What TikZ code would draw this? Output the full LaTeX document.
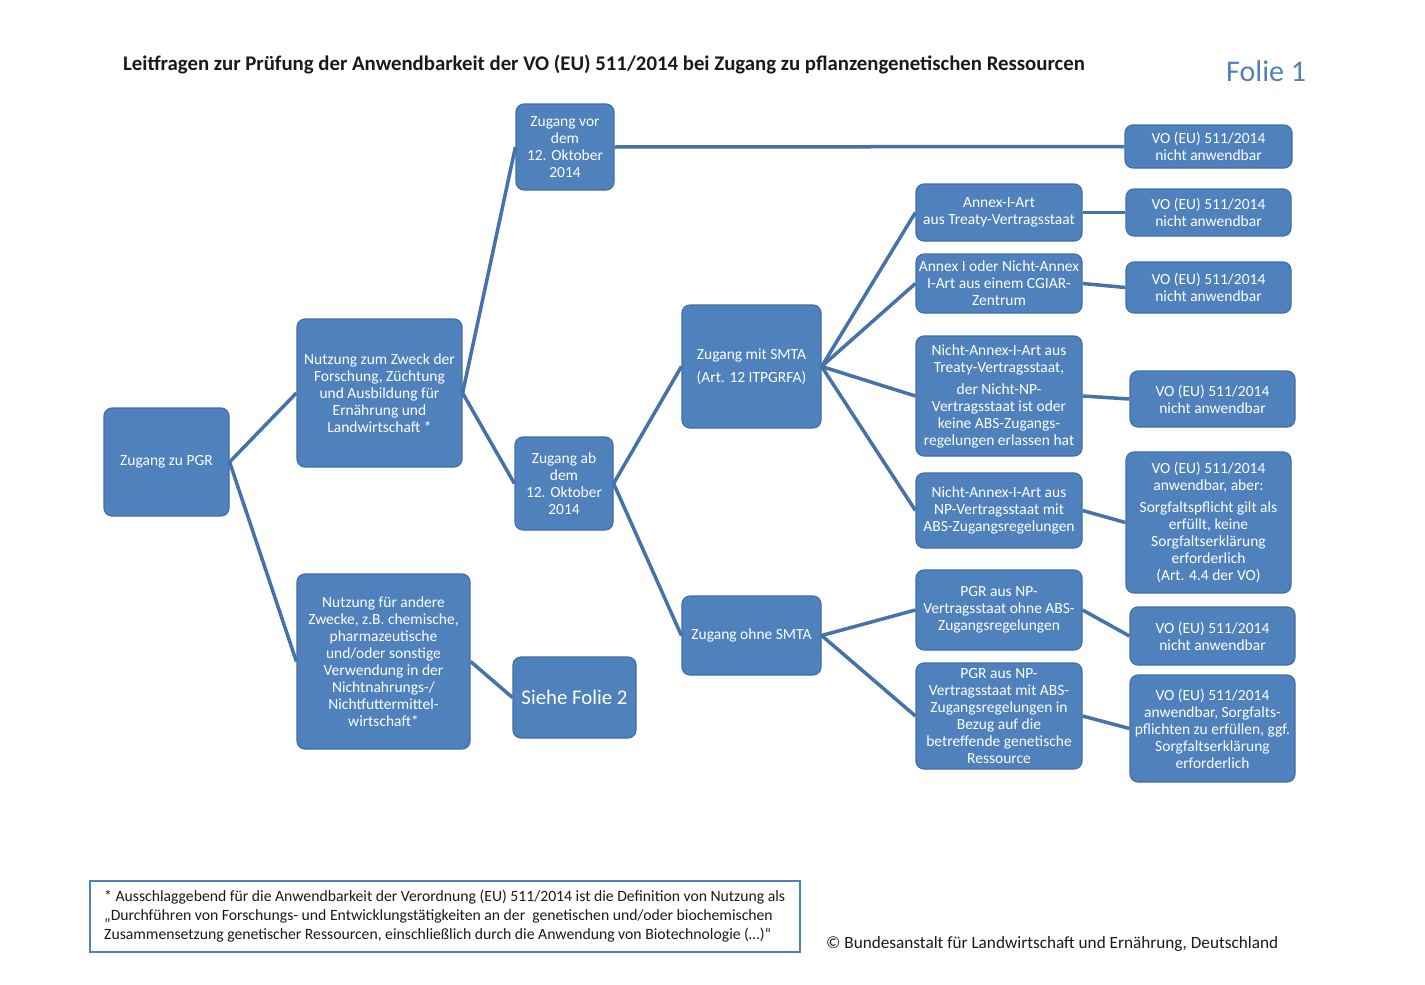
\documentclass[tikz,border=0pt]{standalone}
\usepackage{fontspec}
\setmainfont{Carlito}
\definecolor{boxfill}{HTML}{4F81BD}
\definecolor{boxborder}{HTML}{416FA8}
\definecolor{linecol}{HTML}{4672AA}
\definecolor{txt}{HTML}{1A1A1A}
\begin{document}
\begin{tikzpicture}[x=1pt,y=-1pt,
  box/.style={draw=boxborder, fill=boxfill, rounded corners=8pt, text=white, align=center,
    inner sep=0pt, line width=1.2pt, font=\fontsize{15.5}{17}\selectfont},
  conn/.style={draw=linecol, line width=3.5pt}]
\useasboundingbox (0,0) rectangle (1425,985);
\fill[white] (0,0) rectangle (1425,985);
% title
\node[anchor=west, inner sep=0pt, text=txt, font=\fontsize{20.8}{24}\selectfont\bfseries] (title) at (123,65)
  {Leitfragen zur Prüfung der Anwendbarkeit der VO (EU) 511/2014 bei Zugang zu pflanzengenetischen Ressourcen};
\node[anchor=west, inner sep=0pt, text=boxfill, font=\fontsize{30}{34}\selectfont] (folie) at (1226,71) {Folie 1};
% boxes
\node[box, minimum width=125pt, minimum height=108pt] (pgr) at (166.5,462) {Zugang zu PGR};
\node[box, minimum width=165pt, minimum height=148pt] (nz) at (379.5,393) {Nutzung zum Zweck der\\Forschung, Züchtung\\und Ausbildung für\\Ernährung und\\Landwirtschaft *};
\node[box, minimum width=173pt, minimum height=175pt] (na) at (383.5,661.5) {Nutzung für andere\\Zwecke, z.B. chemische,\\pharmazeutische\\und/oder sonstige\\Verwendung in der\\Nichtnahrungs-/\\Nichtfuttermittel-\\wirtschaft*};
\node[box, minimum width=98pt, minimum height=86pt] (zv) at (565,147) {Zugang vor\\dem\\12. Oktober\\2014};
\node[box, minimum width=98pt, minimum height=93pt] (za) at (564,483.5) {Zugang ab\\dem\\12. Oktober\\2014};
\node[box, minimum width=123pt, minimum height=81pt, font=\fontsize{20.8}{24}\selectfont] (sf) at (574.5,697.5) {Siehe Folie 2};
\node[box, minimum width=139pt, minimum height=123pt] (ms) at (751.5,366.5) {Zugang mit SMTA\\[6pt](Art. 12 ITPGRFA)};
\node[box, minimum width=139pt, minimum height=79pt] (os) at (751.5,635.5) {Zugang ohne SMTA};
\node[box, minimum width=166pt, minimum height=57pt] (a1) at (999,212.5) {Annex-I-Art\\aus Treaty-Vertragsstaat};
\node[box, minimum width=166pt, minimum height=59pt] (a2) at (999,283.5) {Annex I oder Nicht-Annex\\I-Art aus einem CGIAR-\\Zentrum};
\node[box, minimum width=166pt, minimum height=120pt] (a3) at (999,396) {Nicht-Annex-I-Art aus\\Treaty-Vertragsstaat,\\[5pt]der Nicht-NP-\\Vertragsstaat ist oder\\keine ABS-Zugangs-\\regelungen erlassen hat};
\node[box, minimum width=166pt, minimum height=75pt] (a4) at (999,510.5) {Nicht-Annex-I-Art aus\\NP-Vertragsstaat mit\\ABS-Zugangsregelungen};
\node[box, minimum width=166pt, minimum height=80pt] (p1) at (999,610) {PGR aus NP-\\Vertragsstaat ohne ABS-\\Zugangsregelungen};
\node[box, minimum width=166pt, minimum height=106pt] (p2) at (999,716) {PGR aus NP-\\Vertragsstaat mit ABS-\\Zugangsregelungen in\\Bezug auf die\\betreffende genetische\\Ressource};
\node[box, minimum width=167pt, minimum height=43pt] (r0) at (1208.5,146.5) {VO (EU) 511/2014\\nicht anwendbar};
\node[box, minimum width=165pt, minimum height=47pt] (r1) at (1208.5,212.5) {VO (EU) 511/2014\\nicht anwendbar};
\node[box, minimum width=165pt, minimum height=51pt] (r2) at (1208.5,287.5) {VO (EU) 511/2014\\nicht anwendbar};
\node[box, minimum width=165pt, minimum height=56pt] (r3) at (1212.5,399) {VO (EU) 511/2014\\nicht anwendbar};
\node[box, minimum width=165pt, minimum height=141pt] (r4) at (1208.5,522.5) {VO (EU) 511/2014\\anwendbar, aber:\\[5pt]Sorgfaltspflicht gilt als\\erfüllt, keine\\Sorgfaltserklärung\\erforderlich\\(Art. 4.4 der VO)};
\node[box, minimum width=165pt, minimum height=58pt] (r5) at (1212.5,636) {VO (EU) 511/2014\\nicht anwendbar};
\node[box, minimum width=165pt, minimum height=107pt] (r6) at (1212.5,728.5) {VO (EU) 511/2014\\anwendbar, Sorgfalts-\\pflichten zu erfüllen, ggf.\\Sorgfaltserklärung\\erforderlich};
% connectors
\draw[conn] (pgr.east) -- (nz.west);
\draw[conn] (pgr.east) -- (na.west);
\draw[conn] (nz.east) -- (zv.west);
\draw[conn] (nz.east) -- (za.west);
\draw[conn] (na.east) -- (sf.west);
\draw[conn] (zv.east) -- (r0.west);
\draw[conn] (za.east) -- (ms.west);
\draw[conn] (za.east) -- (os.west);
\draw[conn] (ms.east) -- (a1.west);
\draw[conn] (ms.east) -- (a2.west);
\draw[conn] (ms.east) -- (a3.west);
\draw[conn] (ms.east) -- (a4.west);
\draw[conn] (os.east) -- (p1.west);
\draw[conn] (os.east) -- (p2.west);
\draw[conn] (a1.east) -- (r1.west);
\draw[conn] (a2.east) -- (r2.west);
\draw[conn] (a3.east) -- (r3.west);
\draw[conn] (a4.east) -- (r4.west);
\draw[conn] (p1.east) -- (r5.west);
\draw[conn] (p2.east) -- (r6.west);
% footnote
\node[draw=boxfill, line width=2.5pt, fill=white, minimum width=710pt, minimum height=71pt, inner sep=0pt] (fnbox) at (445,916.5) {};
\node[anchor=west, inner sep=0pt, align=left, text=txt, font=\fontsize{15.7}{19}\selectfont] (fn) at (104,916)
  {* Ausschlaggebend für die Anwendbarkeit der Verordnung (EU) 511/2014 ist die Definition von Nutzung als\\
  „Durchführen von Forschungs- und Entwicklungstätigkeiten an der~ genetischen und/oder biochemischen\\
  Zusammensetzung genetischer Ressourcen, einschließlich durch die Anwendung von Biotechnologie (…)“};
\node[anchor=west, inner sep=0pt, text=txt, font=\fontsize{17.2}{20}\selectfont] (copy) at (826,944)
  {© Bundesanstalt für Landwirtschaft und Ernährung, Deutschland};
\end{tikzpicture}
\end{document}
